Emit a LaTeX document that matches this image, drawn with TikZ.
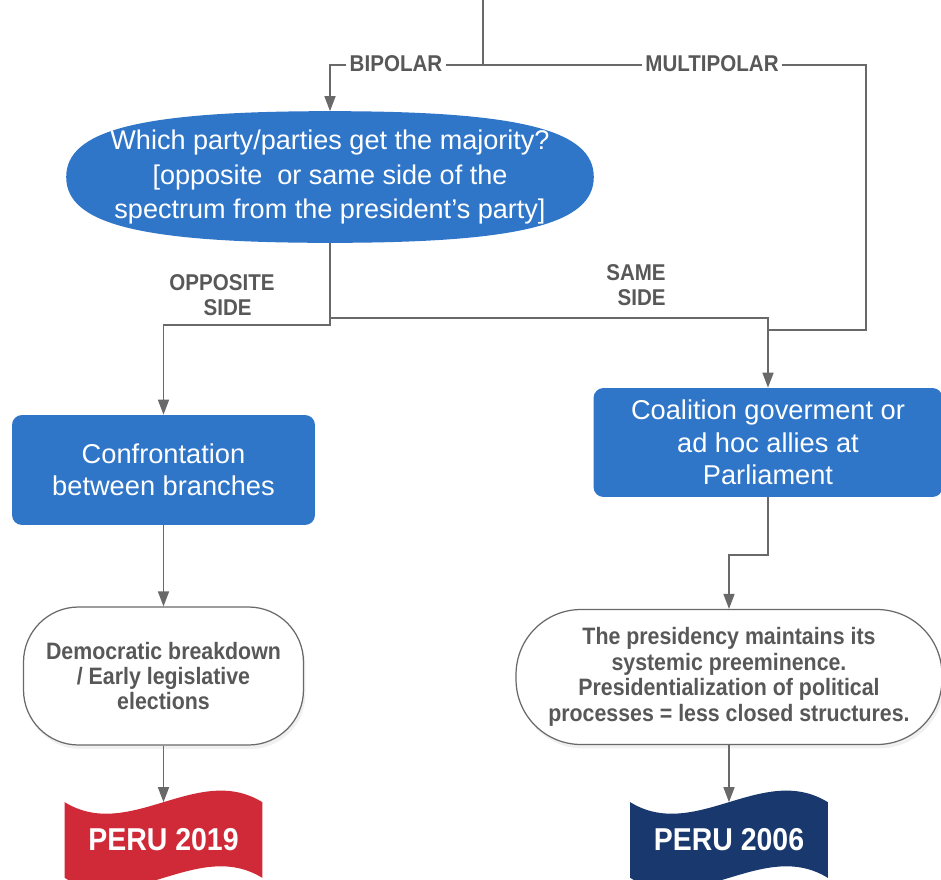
\documentclass[tikz,border=0pt]{standalone}
\usepackage{fontspec}
\setmainfont{Liberation Sans}
\newfontfamily\narrowfont[FakeStretch=0.9]{Liberation Sans}
\usetikzlibrary{arrows.meta,backgrounds,shadows}
\definecolor{boxblue}{RGB}{47,118,201}
\definecolor{linegray}{RGB}{105,105,105}
\definecolor{textgray}{RGB}{88,88,88}
\definecolor{flagred}{RGB}{208,42,56}
\definecolor{flagnavy}{RGB}{24,56,110}

\begin{document}
\begin{tikzpicture}[x=0.02cm,y=-0.02cm,
    line/.style ={draw=linegray, line width=0.9pt},
    link/.style ={line, -{Triangle[length=0.3cm,width=0.22cm]}},
    bluetext/.style ={text=white, align=center, font=\fontsize{15.5}{18.5}\selectfont},
    question/.style ={rectangle, minimum width=10.54cm, minimum height=2.62cm, inner sep=0pt,
        bluetext, font=\fontsize{15.4}{19.5}\selectfont},
    process/.style ={rectangle, rounded corners=0.2cm, fill=boxblue, inner sep=2pt, bluetext},
    outcome/.style ={rectangle, draw=linegray, line width=0.7pt, fill=white, text=textgray, align=center,
        drop shadow={opacity=0.12, shadow xshift=0.04cm, shadow yshift=-0.08cm},
        font=\narrowfont\bfseries\fontsize{13.5}{14.5}\selectfont},
    branch/.style ={fill=white, text=textgray, inner sep=2pt, align=center,
        font=\narrowfont\bfseries\fontsize{13}{14.5}\selectfont},
    flag/.style ={text=white, minimum width=3.94cm, minimum height=1.5cm,
        font=\narrowfont\bfseries\fontsize{18}{20}\selectfont}]
   \useasboundingbox (0,0) rectangle (941,880);
   \coordinate (src) at (483,0);
   \coordinate (split) at (483,65);
   \coordinate (mcorner) at (866,330);
   \coordinate (lturn) at (330,325);
   \coordinate (rturn) at (330,318);
   \coordinate (cbend) at (768,555);
   \node[question] (majority) at (330,177) {Which party/parties get the majority?\\ {[}opposite\ \ or same side of the\\ spectrum from the president's party]};
   \node[process, minimum width=6.06cm, minimum height=2.2cm] (conflict) at (163.5,470) {Confrontation\\ between branches};
   \node[process, minimum width=6.98cm, minimum height=2.18cm] (coalition) at (768,442.5) {Coalition goverment or\\ ad hoc allies at\\ Parliament};
   \node[outcome, rounded corners=1.1cm, minimum width=5.6cm, minimum height=2.76cm] (breakdown) at (163.5,676) {Democratic breakdown\\ / Early legislative\\ elections};
   \node[outcome, rounded corners=1.3cm, minimum width=8.52cm, minimum height=2.7cm] (presidency) at (729,677) {The presidency maintains its\\ systemic preeminence.\\ Presidentialization of political\\ processes = less closed structures.};
   \node[flag] (peru19) at (163.5,840) {PERU 2019};
   \node[flag] (peru06) at (729,840) {PERU 2006};
   \begin{scope}[on background layer]
      \fill[boxblue] (majority.west) .. controls +(0,-47) and +(-190,0) .. (majority.north)
         .. controls +(190,0) and +(0,-47) .. (majority.east)
         .. controls +(0,47) and +(190,0) .. (majority.south)
         .. controls +(-190,0) and +(0,47) .. (majority.west) -- cycle;
      \fill[flagred] (peru19.north west) .. controls +(65,40) and +(-65,-40) .. (peru19.north east)
         -- (peru19.south east) .. controls +(-65,-40) and +(65,40) .. (peru19.south west) -- cycle;
      \fill[flagnavy] (peru06.north west) .. controls +(65,40) and +(-65,-40) .. (peru06.north east)
         -- (peru06.south east) .. controls +(-65,-40) and +(65,40) .. (peru06.south west) -- cycle;
   \end{scope}
   \draw[line] (src) -- (split);
   \draw[link] (split) -| (majority);
   \draw[line] (split) -| (mcorner) -- (coalition.north |- mcorner);
   \draw[link] (majority) -- (lturn) -| (conflict);
   \draw[link] (majority) -- (rturn) -| (coalition);
   \draw[link] (coalition) -- (cbend) -| (presidency);
   \draw[link] (conflict) -- (breakdown);
   \draw[link] (breakdown) -- (peru19);
   \draw[link] (presidency) -- (peru06);
   \node[branch] (bipolar) at (396,64) {BIPOLAR};
   \node[branch] (multipolar) at (712,64) {MULTIPOLAR};
   \node[branch, fill=none] (opposite) at (222,295) {OPPOSITE\\ \hspace*{0.5em}SIDE};
   \node[branch, fill=none] (same) at (636,285) {SAME\\ \hspace*{0.5em}SIDE};
 \end{tikzpicture}
\end{document}
